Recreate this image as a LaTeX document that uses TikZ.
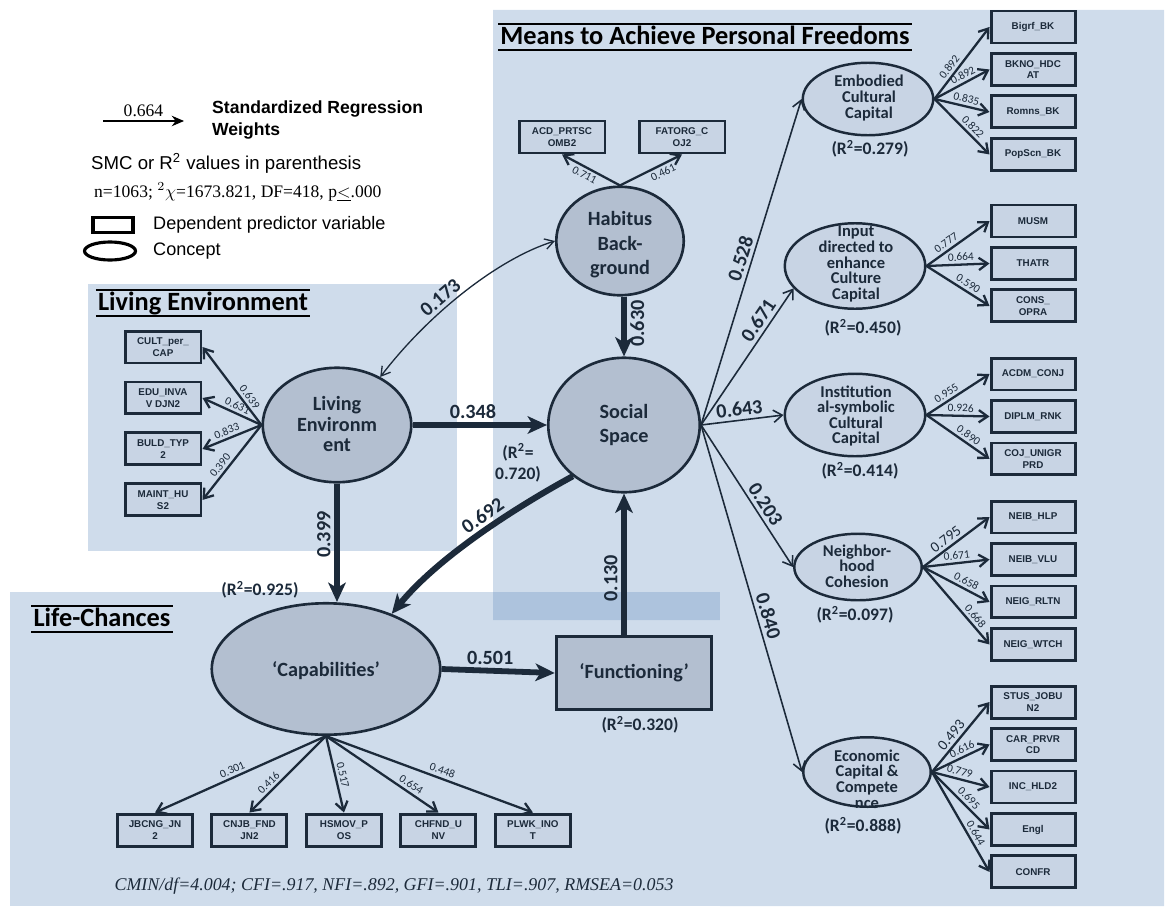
\documentclass[tikz,border=0pt]{standalone}
\usepackage{fontspec}
\setmainfont{Carlito}
\newfontfamily\arialfont{Liberation Sans}
\newfontfamily\timesfont{Liberation Serif}
\usetikzlibrary{positioning,arrows.meta,shapes.geometric}

\definecolor{ink}{HTML}{1C2A3A}
\definecolor{regblue}{RGB}{90,134,186}
\definecolor{latfill}{HTML}{B3BFD0}
\definecolor{obsfill}{HTML}{C8D4E4}

\tikzstyle{region}=[fill=regblue, fill opacity=0.29]
\tikzstyle{obs}=[draw=ink, fill=obsfill, line width=1.7pt, minimum width=1.68cm, minimum height=0.64cm, inner sep=1pt, align=center, text=ink, font=\arialfont\bfseries\fontsize{5.6}{6.6}\selectfont]
\tikzstyle{lat}=[draw=ink, fill=latfill, ellipse, line width=1.5pt, inner sep=0pt]
\tikzstyle{cpt}=[draw=ink, fill=obsfill, ellipse, line width=1.4pt, inner sep=0pt]
\tikzstyle{lattxt}=[align=center, text=ink, font=\bfseries\fontsize{11.5}{14}\selectfont]
\tikzstyle{cpttxt}=[align=center, text=ink, font=\bfseries\fontsize{9.4}{8.9}\selectfont]
\tikzstyle{rsq}=[align=center, text=ink, font=\bfseries\fontsize{10}{12}\selectfont]
\tikzstyle{coef}=[text=ink, font=\bfseries\fontsize{11.5}{13}\selectfont, inner sep=2pt]
\tikzstyle{lod}=[text=ink, font=\fontsize{6.5}{7}\selectfont, inner sep=1.5pt]
\tikzstyle{lodbig}=[text=ink, font=\fontsize{8.5}{9}\selectfont, inner sep=1.5pt]
\tikzstyle{load}=[draw=ink, line width=1.3pt, -{Straight Barb[length=5pt,width=7pt]}]
\tikzstyle{reg}=[draw=ink, line width=0.9pt, -{Straight Barb[length=5pt,width=7pt]}]
\tikzstyle{strong}=[draw=ink, line width=3.3pt, -{Stealth[length=11pt,width=10pt,inset=3pt]}]
\tikzstyle{sectitle}=[text=black, font=\bfseries\fontsize{15}{17}\selectfont, inner xsep=1pt, inner ysep=1.4pt, text height=10pt, text depth=2pt]
\tikzstyle{legtxt}=[anchor=west, font=\arialfont\fontsize{10.3}{12}\selectfont]

\begin{document}
\begin{tikzpicture}[x=0.02cm, y=-0.02cm]
\useasboundingbox (0,0) rectangle (1168,909);

% shaded panels
\fill[region] (493,10) -- (1164,10) -- (1164,906) -- (720,906) -- (720,620) -- (493,620) -- cycle;
\fill[region] (10,592) rectangle (720,906);
\fill[region] (88,284) rectangle (457,551);

% legend
\coordinate (lgs) at (103,121);
\coordinate (lge) at (184,121);
\draw[line width=0.8pt, -{Stealth[length=7pt,width=6pt]}] (lgs) -- node[above, inner sep=2pt, font=\timesfont\fontsize{10}{12}\selectfont] (lgv) {0.664} (lge);
\node[anchor=west, align=left, font=\arialfont\bfseries\fontsize{10}{12}\selectfont] (lgt) at (206,120) {Standardized Regression\\Weights};
\node[legtxt, font=\arialfont\fontsize{10.6}{12}\selectfont] (smc) at (85,163) {SMC or R\textsuperscript{2} values in parenthesis};
\node[anchor=west, font=\timesfont\fontsize{10}{12}\selectfont] (fit) at (88,192) {n=1063; ${}^{2}\chi$=1673.821, DF=418, p\underline{$<$}.000};
\node[draw, line width=1.8pt, minimum width=0.8cm, minimum height=0.3cm] (lgbox) at (113,225) {};
\node[legtxt] (lgboxt) at (147,225) {Dependent predictor variable};
\node[draw, ellipse, line width=1.8pt, minimum width=1.02cm, minimum height=0.36cm] (lgell) at (110,251) {};
\node[legtxt] (lgellt) at (147,251) {Concept};

% section titles
\node[sectitle] (mtit) at (705,37) {Means to Achieve Personal Freedoms};
\draw[line width=1pt] (mtit.north west) -- (mtit.north east);
\draw[line width=1pt] (mtit.south west) -- (mtit.south east);
\node[sectitle] (ltit) at (203,303) {Living Environment};
\draw[line width=1pt] (ltit.north west) -- (ltit.north east);
\draw[line width=1pt] (ltit.south west) -- (ltit.south east);
\node[sectitle] (ctit) at (102,619) {Life-Chances};
\draw[line width=1pt] (ctit.north west) -- (ctit.north east);
\draw[line width=1pt] (ctit.south west) -- (ctit.south east);

% main constructs
\node[lat, minimum width=2.55cm, minimum height=2.17cm] (hab) at (620,241) {};
\node[lattxt] (hab-t) at (620,245) {Habitus\\Back-\\ground};
\node[lat, minimum width=3.03cm, minimum height=2.69cm] (soc) at (624,425) {};
\node[lattxt] (soc-t) at (624,425) {Social\\Space};
\node[lat, minimum width=2.97cm, minimum height=2.29cm] (liv) at (337,425) {};
\node[lattxt, font=\bfseries\fontsize{11.5}{11.5}\selectfont] (liv-t) at (337,424) {Living\\Environm\\ent};
\node[lat, minimum width=4.57cm, minimum height=2.63cm] (cap) at (326,669) {};
\node[lattxt] (cap-t) at (326,671) {‘Capabilities’};
\node[lattxt, draw=ink, fill=latfill, line width=2pt, minimum width=3.1cm, minimum height=1.46cm] (fun) at (634,673) {‘Functioning’};

\node[rsq] (soc-r) at (518,463) {(R\textsuperscript{2}=\\0.720)};
\node[rsq] (cap-r) at (260,590) {(R\textsuperscript{2}=0.925)};
\node[rsq] (fun-r) at (640,725) {(R\textsuperscript{2}=0.320)};

% right hand concepts
\node[cpt, minimum width=2.61cm, minimum height=1.45cm] (emb) at (868,99) {};
\node[cpttxt] (emb-t) at (869,98) {Embodied\\Cultural\\Capital};
\node[rsq] (emb-r) at (870,149) {(R\textsuperscript{2}=0.279)};
\node[cpt, minimum width=2.81cm, minimum height=1.71cm] (inp) at (855,266) {};
\node[cpttxt] (inp-t) at (856,264) {Input\\directed to\\enhance\\Culture\\Capital};
\node[rsq] (inp-r) at (863,328) {(R\textsuperscript{2}=0.450)};
\node[cpt, minimum width=2.81cm, minimum height=1.65cm] (ins) at (855,415) {};
\node[cpttxt] (ins-t) at (856,416) {Institution\\al-symbolic\\Cultural\\Capital};
\node[rsq] (ins-r) at (860,471) {(R\textsuperscript{2}=0.414)};
\node[cpt, minimum width=2.55cm, minimum height=1.33cm] (nei) at (858,567) {};
\node[cpttxt] (nei-t) at (857,566) {Neighbor-\\hood\\Cohesion};
\node[rsq] (nei-r) at (855,615) {(R\textsuperscript{2}=0.097)};
\node[cpt, minimum width=2.55cm, minimum height=1.39cm] (eco) at (867,772) {};
\node[cpttxt] (eco-t) at (867,779) {Economic\\Capital \&\\Compete\\nce};
\node[rsq] (eco-r) at (863,826) {(R\textsuperscript{2}=0.888)};

% indicators
\node[obs, minimum width=1.72cm] (acd) at (562,137) {ACD\_PRTSC\\OMB2};
\node[obs, minimum width=1.72cm] (fat) at (682,137) {FATORG\_C\\OJ2};

\node[obs, minimum width=1.52cm] (cult) at (163,347) {CULT\_per\_\\CAP};
\node[obs, minimum width=1.52cm, below of=cult, node distance=1.02cm] (edu) {EDU\_INVA\\V DJN2};
\node[obs, minimum width=1.52cm, below of=edu, node distance=1.02cm] (buld) {BULD\_TYP\\2};
\node[obs, minimum width=1.52cm, below of=buld, node distance=1.02cm] (maint) {MAINT\_HU\\S2};

\node[obs, minimum width=1.5cm] (jbc) at (155,830) {JBCNG\_JN\\2};
\node[obs, minimum width=1.5cm, right of=jbc, node distance=1.89cm] (cnj) {CNJB\_FND\\JN2};
\node[obs, minimum width=1.5cm, right of=cnj, node distance=1.89cm] (hsm) {HSMOV\_P\\OS};
\node[obs, minimum width=1.5cm, right of=hsm, node distance=1.89cm] (chf) {CHFND\_U\\NV};
\node[obs, minimum width=1.5cm, right of=chf, node distance=1.89cm] (plw) {PLWK\_INO\\T};

\node[obs] (bigrf) at (1033,27) {Bigrf\_BK};
\node[obs, below of=bigrf, node distance=0.85cm] (bkno) {BKNO\_HDC\\AT};
\node[obs, below of=bkno, node distance=0.85cm] (romns) {Romns\_BK};
\node[obs, below of=romns, node distance=0.85cm] (popscn) {PopScn\_BK};
\node[obs] (musm) at (1033,221) {MUSM};
\node[obs, below of=musm, node distance=0.85cm] (thatr) {THATR};
\node[obs, below of=thatr, node distance=0.85cm] (cons) {CONS\_\\OPRA};
\node[obs] (acdm) at (1033,374) {ACDM\_CONJ};
\node[obs, below of=acdm, node distance=0.85cm] (diplm) {DIPLM\_RNK};
\node[obs, below of=diplm, node distance=0.85cm] (cojun) {COJ\_UNIGR\\PRD};
\node[obs] (nhlp) at (1033,517) {NEIB\_HLP};
\node[obs, below of=nhlp, node distance=0.85cm] (nvlu) {NEIB\_VLU};
\node[obs, below of=nvlu, node distance=0.85cm] (nrltn) {NEIG\_RLTN};
\node[obs, below of=nrltn, node distance=0.85cm] (nwtch) {NEIG\_WTCH};
\node[obs] (stus) at (1033,702) {STUS\_JOBU\\N2};
\node[obs, below of=stus, node distance=0.85cm] (carpr) {CAR\_PRVR\\CD};
\node[obs, below of=carpr, node distance=0.85cm] (inchl) {INC\_HLD2};
\node[obs, below of=inchl, node distance=0.85cm] (engl) {Engl};
\node[obs, below of=engl, node distance=0.85cm] (confr) {CONFR};

% loadings
\draw[load] (hab.north) -- node[lod, sloped, below, pos=0.55] {0.711} (acd.south);
\draw[load] (hab.north) -- node[lod, sloped, below, pos=0.64] {0.461} (fat.south);

\draw[load] (liv.west) -- node[lod, sloped, above, pos=0.3] {0.639} (cult.east);
\draw[load] (liv.west) -- node[lod, sloped, above, pos=0.46] {0.631} (edu.east);
\draw[load] (liv.west) -- node[lod, sloped, above, pos=0.54] {0.833} (buld.east);
\draw[load] (liv.west) -- node[lod, sloped, above, pos=0.6] {0.390} (maint.east);

\draw[load] (cap.south) -- node[lod, sloped, above, pos=0.53] {0.301} (jbc.north);
\draw[load] (cap.south) -- node[lod, sloped, above, pos=0.68] {0.416} (cnj.north);
\draw[load] (cap.south) -- node[lod, sloped, above, pos=0.53] {0.517} (hsm.north);
\draw[load] (cap.south) -- node[lod, sloped, above, pos=0.72] {0.654} (chf.north);
\draw[load] (cap.south) -- node[lod, sloped, above, pos=0.55] {0.448} (plw.north);

\draw[load] (emb.east) -- node[lod, sloped, above, pos=0.38] {0.892} (bigrf.west);
\draw[load] (emb.east) -- node[lod, sloped, above, pos=0.58] {0.892} (bkno.west);
\draw[load] (emb.east) -- node[lod, sloped, above, pos=0.55] {0.835} (romns.west);
\draw[load] (emb.east) -- node[lod, sloped, above, pos=0.6] {0.822} (popscn.west);

\draw[load] (inp.east) -- node[lod, sloped, above, pos=0.38] {0.777} (musm.west);
\draw[load] (inp.east) -- node[lod, sloped, above, pos=0.55] {0.664} (thatr.west);
\draw[load] (inp.east) -- node[lod, sloped, above, pos=0.6] {0.590} (cons.west);

\draw[load] (ins.east) -- node[lod, sloped, above, pos=0.38] {0.955} (acdm.west);
\draw[load] (ins.east) -- node[lod, sloped, above, pos=0.54] {0.926} (diplm.west);
\draw[load] (ins.east) -- node[lod, sloped, above, pos=0.6] {0.890} (cojun.west);

\draw[load] (nei.east) -- node[lodbig, sloped, above, pos=0.42] {0.795} (nhlp.west);
\draw[load] (nei.east) -- node[lod, sloped, above, pos=0.52] {0.671} (nvlu.west);
\draw[load] (nei.east) -- node[lod, sloped, above, pos=0.6] {0.658} (nrltn.west);
\draw[load] (nei.east) -- node[lod, sloped, above, pos=0.7] {0.668} (nwtch.west);

\draw[load] (eco.east) -- node[lodbig, sloped, above, pos=0.45] {0.493} (stus.west);
\draw[load] (eco.east) -- node[lod, sloped, above, pos=0.58] {0.616} (carpr.west);
\draw[load] (eco.east) -- node[lod, sloped, above, pos=0.45] {0.779} (inchl.west);
\draw[load] (eco.east) -- node[lod, sloped, above, pos=0.55] {0.695} (engl.west);
\draw[load] (eco.east) -- node[lod, sloped, above, pos=0.65] {0.644} (confr.west);

% structural paths
\draw[reg] (soc.east) -- node[coef, sloped, above, pos=0.5] {0.528} (emb.west);
\draw[reg] (soc.east) -- node[coef, sloped, above, pos=0.72] {0.671} (inp.200);
\draw[reg] (soc.east) -- node[coef, sloped, above, pos=0.48] {0.643} (ins.west);
\draw[reg] (soc.east) -- node[coef, sloped, above, pos=0.6] {0.203} (nei.west);
\draw[reg] (soc.east) -- node[coef, sloped, above, pos=0.56] {0.840} (eco.west);

\draw[strong] (hab.south -| soc.north) -- node[coef, rotate=90, anchor=north, pos=0.45] {0.630} (soc.north);
\draw[strong] (liv.east) -- node[coef, above, pos=0.45] {0.348} (soc.west);
\draw[strong] (liv.south) -- node[coef, rotate=90, anchor=south, pos=0.43] {0.399} (liv.south |- cap.north);
\draw[strong, line width=3.5pt] (soc.225) .. controls (520,505) and (440,555) .. node[coef, sloped, above, pos=0.45] {0.692} (cap.40);
\draw[strong] (cap.east) -- node[coef, above, pos=0.43] {0.501} (fun.west);
\draw[strong] (fun.north -| soc.south) -- node[coef, rotate=90, anchor=south, pos=0.4] {0.130} (soc.south);

\draw[draw=ink, line width=0.75pt, {Straight Barb[length=5pt,width=6pt]}-{Straight Barb[length=5pt,width=6pt]}] (hab.west) .. controls (500,258) and (430,312) .. node[coef, sloped, above, pos=0.6] {0.173} (liv.48);

% fit indices
\node[text=ink, font=\timesfont\itshape\fontsize{10.2}{12}\selectfont] (fitidx) at (394,886) {CMIN/df=4.004; CFI=.917, NFI=.892, GFI=.901, TLI=.907, RMSEA=0.053};
\end{tikzpicture}
\end{document}
